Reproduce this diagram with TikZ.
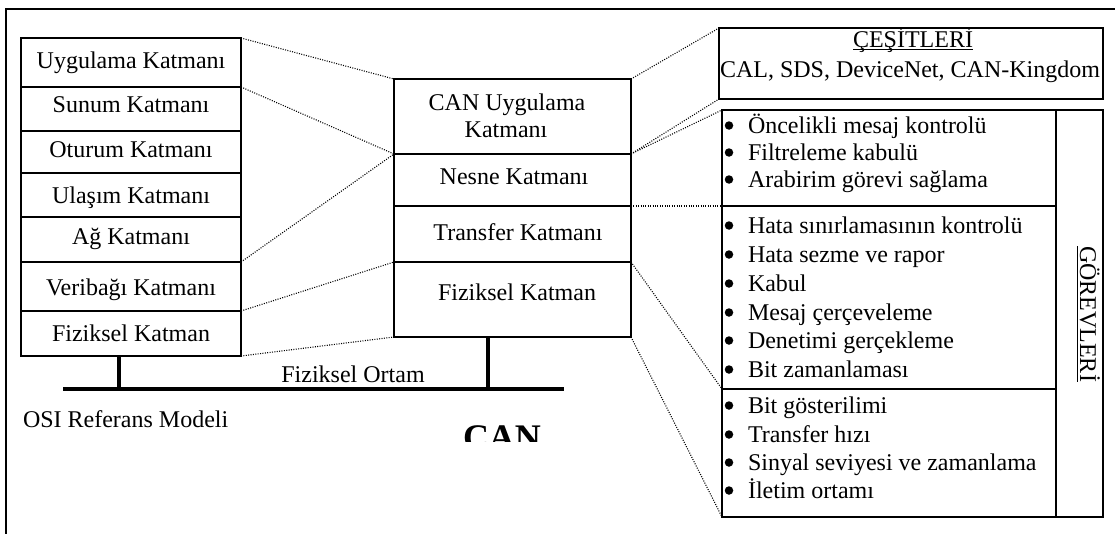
\documentclass[tikz,border=0pt]{standalone}
\usepackage{fontspec}
\setmainfont{Liberation Serif}
\usetikzlibrary{calc}
\begin{document}
\begin{tikzpicture}[x=1pt,y=-1pt,
  every node/.style={inner sep=0pt, outer sep=0pt},
  txt/.style={anchor=base, font=\fontsize{24}{28}\selectfont},
  cell/.style={draw, line width=2pt, anchor=north west},
  frame/.style={line width=2pt},
  bus/.style={line width=3.5pt},
  link/.style={line width=1.1pt, dash pattern=on 1pt off 1.4pt},
  uline/.style={line width=1.3pt},
  dot/.style={circle, fill, minimum size=8.5pt}
]
\useasboundingbox (0,0) rectangle (1115,533);
\clip (0,0) rectangle (1115,533);

% outer frame (right and bottom edges lie outside the page)
\draw[frame] (6,560) -- (6,9) -- (1140,9);

% OSI reference model stack
\node[cell, minimum width=220pt, minimum height=49pt] (o1) at (21,38)  {};
\node[cell, minimum width=220pt, minimum height=44pt] (o2) at (21,87)  {};
\node[cell, minimum width=220pt, minimum height=42pt] (o3) at (21,131) {};
\node[cell, minimum width=220pt, minimum height=44pt] (o4) at (21,173) {};
\node[cell, minimum width=220pt, minimum height=45pt] (o5) at (21,217) {};
\node[cell, minimum width=220pt, minimum height=49pt] (o6) at (21,262) {};
\node[cell, minimum width=220pt, minimum height=45pt] (o7) at (21,311) {};
\node[txt] (ot1) at (131,68)  {Uygulama Katmanı};
\node[txt] (ot2) at (131,112) {Sunum Katmanı};
\node[txt] (ot3) at (131,157) {Oturum Katmanı};
\node[txt] (ot4) at (131,203) {Ulaşım Katmanı};
\node[txt] (ot5) at (131,244) {Ağ Katmanı};
\node[txt] (ot6) at (131,295) {Veribağı Katmanı};
\node[txt] (ot7) at (131,341) {Fiziksel Katman};

% CAN stack
\node[cell, minimum width=237pt, minimum height=75pt] (c1) at (394,79)  {};
\node[cell, minimum width=237pt, minimum height=52pt] (c2) at (394,154) {};
\node[cell, minimum width=237pt, minimum height=56pt] (c3) at (394,206) {};
\node[cell, minimum width=237pt, minimum height=75pt] (c4) at (394,262) {};
\node[txt] (ct1a) at (507,110) {CAN Uygulama};
\node[txt] (ct1b) at (506,137) {Katmanı};
\node[txt] (ct2) at (514,184) {Nesne Katmanı};
\node[txt] (ct3) at (518,240) {Transfer Katmanı};
\node[txt] (ct4) at (517,300) {Fiziksel Katman};

% physical medium
\coordinate (busL) at (63,389);
\coordinate (busR) at (564,389);
\draw[bus] (busL) -- (busR);
\coordinate (s1) at ($(o7.south west)+(98,0)$);
\coordinate (s2) at ($(c4.south west)+(94,0)$);
\draw[bus] (s1) -- (s1 |- busL);
\draw[bus] (s2) -- (s2 |- busL);
\node[txt] (ortam) at (353,382) {Fiziksel Ortam};
\node[txt, anchor=base west] (osi) at (23,427) {OSI Referans Modeli};
\begin{scope}
  \clip (440,400) rectangle (600,441);
  \node[anchor=base west, font=\fontsize{36}{40}\selectfont\bfseries] (canlbl) at (463,449) {CAN};
\end{scope}

% variants box
\node[cell, minimum width=384pt, minimum height=71pt] (kinds) at (719,28) {};
\node[txt] (kt1) at (913,47) {ÇEŞİTLERİ};
\draw[uline] ([yshift=-2.8pt]kt1.base west) -- ([yshift=-2.8pt]kt1.base east);
\node[txt] (kt2) at (910,77) {CAL, SDS, DeviceNet, CAN-Kingdom};

% tasks box
\node[cell, minimum width=334pt, minimum height=96pt]  (g1) at (722,110) {};
\node[cell, minimum width=334pt, minimum height=183pt] (g2) at (722,206) {};
\node[cell, minimum width=334pt, minimum height=128pt] (g3) at (722,389) {};
\node[cell, minimum width=47pt,  minimum height=407pt] (gside) at (1056,110) {};
\node[txt, rotate=-90] (gorev) at (1080,314) {GÖREVLERİ};
\draw[uline] ([xshift=-2.5pt]gorev.base west) -- ([xshift=-2.5pt]gorev.base east);

\foreach \y/\t [count=\i] in {133/Öncelikli mesaj kontrolü, 160/Filtreleme kabulü,
  187/Arabirim görevi sağlama, 233/Hata sınırlamasının kontrolü,
  262/Hata sezme ve rapor, 291/Kabul, 320/Mesaj çerçeveleme,
  348/Denetimi gerçekleme, 377/Bit zamanlaması, 413/Bit gösterilimi,
  442/Transfer hızı, 470/Sinyal seviyesi ve zamanlama, 498/İletim ortamı}{
  \node[dot] (bul\i) at (729,\y-7.5) {};
  \node[txt, anchor=base west] (item\i) at (748,\y) {\t};
}

% dotted correspondences
\draw[link] (o1.north east) -- (c1.north west);
\draw[link] (o2.north east) -- (c2.north west);
\draw[link] (o6.north east) -- (c2.north west);
\draw[link] (o7.north east) -- (c4.north west);
\draw[link] (o7.south east) -- (c4.south west);
\draw[link] (c1.north east) -- (kinds.north west);
\draw[link] (c2.north east) -- (kinds.south west);
\draw[link] (c2.north east) -- (g1.north west);
\draw[link] (c3.north east) -- (g2.north west);
\draw[link] (c4.north east) -- (g2.south west);
\draw[link] (c4.south east) -- (g3.south west);
\end{tikzpicture}
\end{document}
